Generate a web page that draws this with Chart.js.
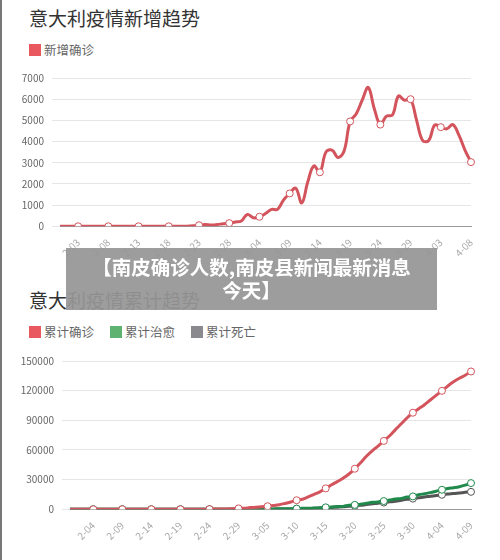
<!DOCTYPE html>
<html><head><meta charset="utf-8">
<script src="https://cdn.jsdelivr.net/npm/chart.js@4"></script>
<style>
body{margin:0;width:500px;height:560px;background:#fff;font-family:"Noto Sans CJK SC","Noto Sans",sans-serif;position:relative;overflow:hidden;border-left:2px solid #777;box-sizing:border-box}
.t{position:absolute;left:27px;font-size:19px;color:#333}
.lg{position:absolute;left:27px;font-size:12.5px;color:#666;display:flex;gap:16px}
.lg span{display:flex;align-items:center}
.lg i{display:inline-block;width:12px;height:12px;margin-right:3px}
.c{position:absolute;left:0}
#ban{position:absolute;left:64px;top:248px;width:371px;height:62px;background:rgba(150,150,150,0.93);color:#fff;font-weight:bold;font-size:19.5px;text-align:center;line-height:23px;padding-top:7px;box-sizing:border-box}
</style></head><body>
<div class="t" style="top:4px">意大利疫情新增趋势</div>
<div class="lg" style="top:40px"><span><i style="background:#e8585e"></i>新增确诊</span></div>
<div class="c" style="top:64px;width:490px;height:197px"><canvas id="c1"></canvas></div>
<div class="t" style="top:286px">意大利疫情累计趋势</div>
<div class="lg" style="top:322px"><span><i style="background:#e8585e"></i>累计确诊</span><span><i style="background:#5db36f"></i>累计治愈</span><span><i style="background:#8a8a8e"></i>累计死亡</span></div>
<div class="c" style="top:347px;width:490px;height:197px"><canvas id="c2"></canvas></div>
<div id="ban">【南皮确诊人数,南皮县新闻最新消息<br>今天】</div>
<script>
function mkDates(n){const a=[];const d=new Date(2020,0,31);for(let i=0;i<n;i++){a.push((d.getMonth()+1)+'-'+String(d.getDate()).padStart(2,'0'));d.setDate(d.getDate()+1);}return a;}
const dates1=mkDates(69);
const dates2=mkDates(70);
const newCases=[0,0,0,0,0,0,0,0,0,0,0,0,0,0,0,0,0,0,0,0,0,
 3,20,50,80,60,80,120,150,200,250,560,400,450,600,800,800,1250,1550,1800,1100,2100,2850,2550,3500,3600,3250,3550,4950,5300,5950,6550,5550,4800,5200,5250,6150,5950,6000,5000,4050,4050,4780,4680,4600,4800,4300,3600,3030];
const zeros22=new Array(22).fill(0);
const cumConfirmed=new Array(22).fill(3).concat([20,79,150,229,322,400,650,888,1128,1694,2036,2502,3089,3858,4636,5883,7375,9172,10149,12462,15113,17660,21157,24747,27980,31506,35713,41035,47021,53578,59138,63927,69176,74386,80589,86498,92472,97689,101739,105792,110574,115242,119827,124632,128948,132547,135586,139422]);
const cumRecovered=zeros22.concat([0,1,1,1,1,3,45,46,50,83,149,160,276,414,523,589,622,724,1004,1045,1258,1439,1966,2335,2749,2941,4025,4440,5129,6072,7024,7432,8326,9362,10361,10950,12384,13030,14620,15729,16847,18278,19758,20996,21815,22837,24392,26491]);
const cumDeaths=zeros22.concat([1,2,3,7,10,12,17,21,29,34,52,79,107,148,197,233,366,463,631,827,1016,1266,1441,1809,2158,2503,2978,3405,4032,4825,5476,6077,6820,7503,8165,9134,10023,10779,11591,12428,13155,13915,14681,15362,15887,16523,17127,17669]);
const ticks1=[0,1000,2000,3000,4000,5000,6000,7000];
const ticks2=[0,30000,60000,90000,120000,150000];
const F='"Noto Sans CJK SC","Noto Sans",sans-serif';
function pr(n,off){return Array.from({length:n},(_,i)=>((i-off)%5===0&&i>=off)?3.5:0);}
function ds(data,color,off){return {data,borderColor:color,borderWidth:3,tension:0.4,pointRadius:pr(data.length,off),pointBackgroundColor:'#fff',pointBorderColor:color,pointBorderWidth:1,fill:false};}
function opts(max,tk,lw,off){return {responsive:true,maintainAspectRatio:false,animation:false,
 layout:{padding:{right:21,top:6}},
 plugins:{legend:{display:false},tooltip:{enabled:false}},
 scales:{x:{grid:{display:false},border:{color:'#999'},
   ticks:{autoSkip:false,maxRotation:45,minRotation:45,color:'#aaa',font:{size:10,family:F},padding:2,
   callback:function(v,i){return ((i-off)%5===0&&i>=off)?this.getLabelForValue(v):'';}}},
  y:{min:0,max:max,afterFit:s=>{s.width=lw;},afterBuildTicks:s=>{s.ticks=tk.map(v=>({value:v}));},
   grid:{color:'#e6e6e6'},border:{display:false},ticks:{color:'#666',font:{size:10,family:F},padding:8,callback:v=>String(v)}}}};}
new Chart(document.getElementById('c1'),{type:'line',data:{labels:dates1,datasets:[ds(newCases,'#d3545c',3)]},options:opts(7000,ticks1,58,3)});
new Chart(document.getElementById('c2'),{type:'line',data:{labels:dates2,datasets:[ds(cumDeaths,'#555',4),ds(cumRecovered,'#1f8a4c',4),ds(cumConfirmed,'#d3545c',4)].reverse()},options:opts(150000,ticks2,68,4)});
</script></body></html>
